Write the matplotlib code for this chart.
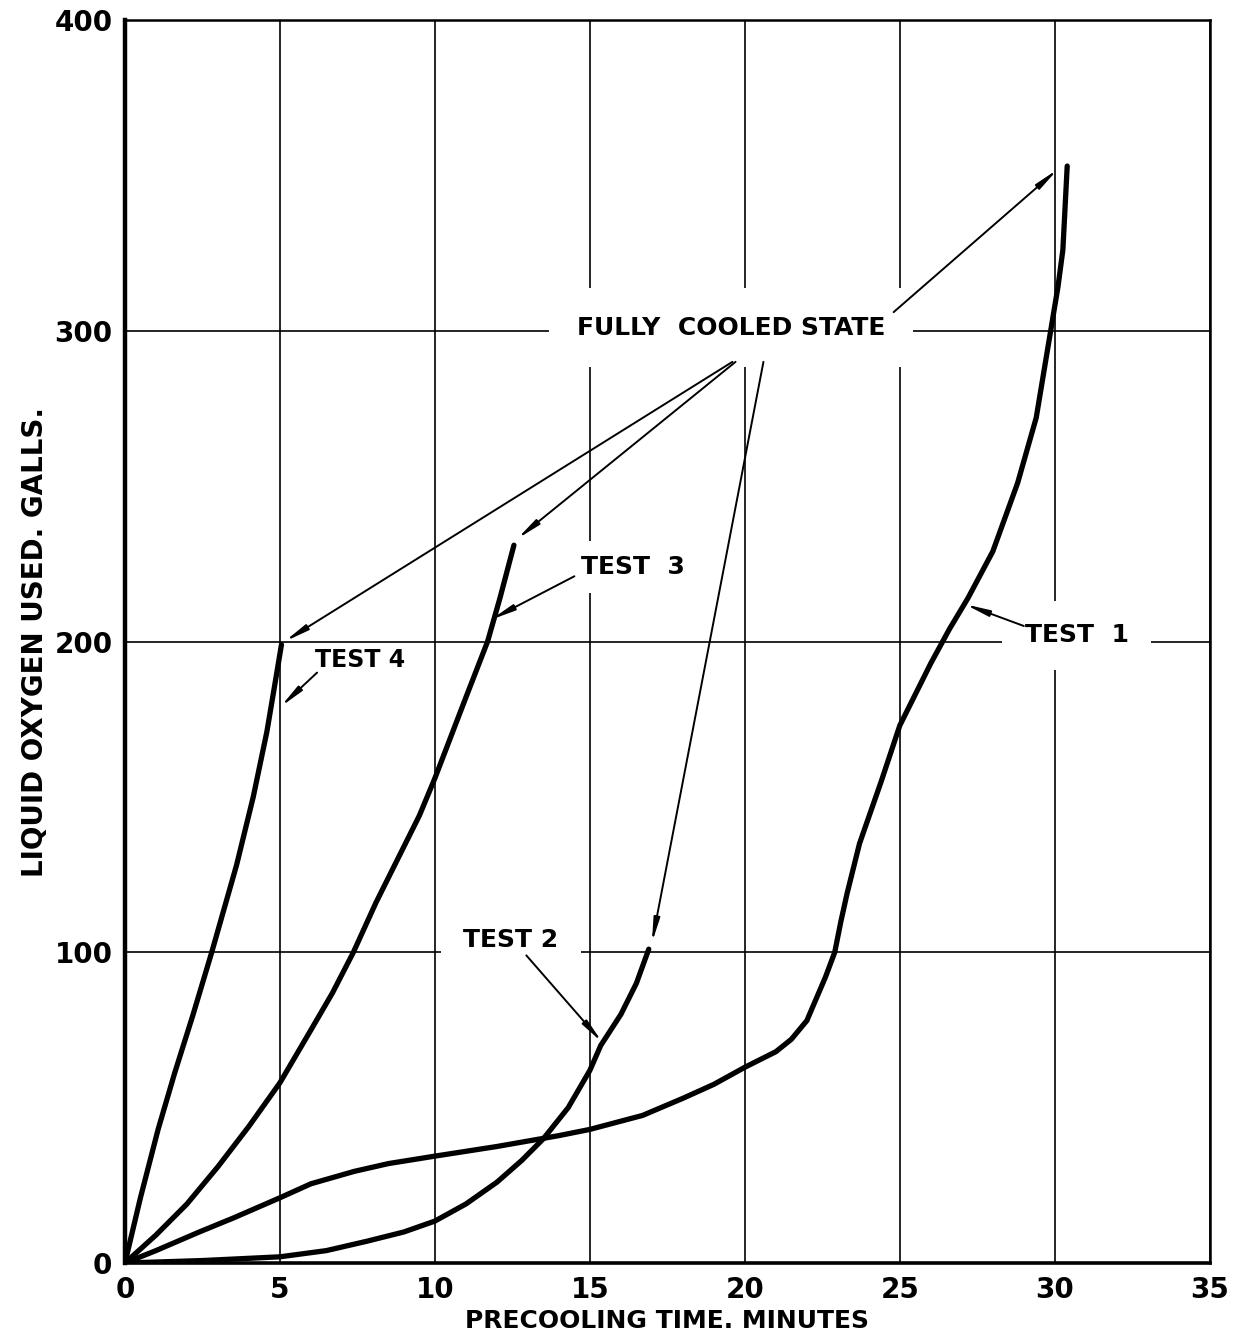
import matplotlib.pyplot as plt

plt.rcParams["font.family"] = "DejaVu Sans"
plt.rcParams["font.weight"] = "bold"

# curves (minutes, gallons)
test1_t = [0, 1, 2.4, 3.5, 5, 6, 7.4, 8.5, 10, 12, 14, 15, 16.7, 18, 19, 20, 21, 21.5, 22, 22.3, 22.6,
           22.9, 23.1, 23.3, 23.7, 24.4, 25, 25.4, 26, 26.6, 27.2, 28, 28.8, 29.4, 29.9, 30.1, 30.26, 30.4]
test1_g = [0, 4, 10, 14.5, 21, 25.5, 29.5, 32, 34.4, 37.5, 41, 43, 47.5, 53, 57.5, 63, 68, 72, 78, 85, 92,
           100, 110, 119, 135, 155, 173, 181, 193, 204, 214, 229, 251, 272, 302, 314, 326, 353]

test2_t = [0, 2.5, 5, 6.5, 7.8, 9, 10, 11, 12, 12.8, 13.5, 14.3, 15, 15.35, 16, 16.5, 16.9]
test2_g = [0, 0.8, 2, 4, 7, 10, 13.5, 19, 26, 33, 40, 50, 62, 70, 80, 90, 101]

test3_t = [0, 1, 2, 3, 4, 5, 6, 6.7, 7.37, 8.1, 8.9, 9.5, 10, 10.5, 11, 11.7, 12.1, 12.55]
test3_g = [0, 9, 19, 31, 44, 58, 75, 87, 100, 116, 132, 144, 156, 169, 182, 200, 214, 231]

test4_t = [0, 0.5, 1.07, 1.6, 2.2, 2.8, 3.2, 3.6, 4.14, 4.58, 4.85, 5.0, 5.05]
test4_g = [0, 21, 43, 61, 80, 100, 114, 128, 150, 171, 187, 196, 199]

x_ticks = [0, 5, 10, 15, 20, 25, 30, 35]
y_ticks = [0, 100, 200, 300, 400]

fig = plt.figure(figsize=(12.37, 13.34), dpi=100)
ax = fig.add_axes([0.101, 0.0532, 0.877, 0.9318])

ax.set_xlim(0, 35)
ax.set_ylim(0, 400)
ax.set_xticks(x_ticks)
ax.set_yticks(y_ticks)
ax.tick_params(length=0, labelsize=20)
ax.tick_params(axis="x", pad=9)
ax.tick_params(axis="y", pad=9)
for lab in ax.get_xticklabels() + ax.get_yticklabels():
    lab.set_fontweight("bold")
ax.grid(True, color="black", lw=1.2, zorder=0)
ax.set_axisbelow(True)
ax.spines["left"].set_linewidth(3.2)
ax.spines["bottom"].set_linewidth(2.6)
for s in ["top", "right"]:
    ax.spines[s].set_linewidth(1.8)

for t, g in [(test1_t, test1_g), (test2_t, test2_g), (test3_t, test3_g), (test4_t, test4_g)]:
    ax.plot(t, g, color="black", lw=3.8, solid_capstyle="round", solid_joinstyle="round", zorder=3)

ax.set_xlabel("PRECOOLING TIME. MINUTES", fontsize=18, fontweight="bold", labelpad=4)
ax.set_ylabel("LIQUID OXYGEN USED. GALLS.", fontsize=20, fontweight="bold", labelpad=4)

arrow = dict(arrowstyle="-|>,head_length=1.4,head_width=0.18", color="black", lw=1.4, shrinkA=0, shrinkB=0)

# fully cooled state
ax.text(19.55, 301, "FULLY  COOLED STATE", fontsize=18, fontweight="bold", ha="center", va="center",
        bbox=dict(facecolor="white", edgecolor="none", pad=20), zorder=4)
ax.annotate("", xy=(5.15, 200), xytext=(19.6, 290), arrowprops=arrow, zorder=5)
ax.annotate("", xy=(12.65, 233), xytext=(19.7, 290), arrowprops=arrow, zorder=5)
ax.annotate("", xy=(17.0, 103), xytext=(20.6, 290), arrowprops=arrow, zorder=5)
ax.annotate("", xy=(30.1, 352), xytext=(24.8, 306), arrowprops=arrow, zorder=5)

# test labels
ax.text(7.6, 194, "TEST 4", fontsize=17, fontweight="bold", ha="center", va="center",
        bbox=dict(facecolor="white", edgecolor="none", pad=2), zorder=4)
ax.annotate("", xy=(5.02, 179), xytext=(6.2, 190), arrowprops=arrow, zorder=5)

ax.text(16.4, 224, "TEST  3", fontsize=18, fontweight="bold", ha="center", va="center",
        bbox=dict(facecolor="white", edgecolor="none", pad=10), zorder=4)
ax.annotate("", xy=(11.8, 207), xytext=(14.5, 221), arrowprops=arrow, zorder=5)

ax.text(12.45, 104, "TEST 2", fontsize=18, fontweight="bold", ha="center", va="center",
        bbox=dict(facecolor="white", edgecolor="none", pad=16), zorder=4)
ax.annotate("", xy=(15.4, 71), xytext=(12.95, 99), arrowprops=arrow, zorder=5)

ax.text(30.7, 202, "TEST  1", fontsize=18, fontweight="bold", ha="center", va="center",
        bbox=dict(facecolor="white", edgecolor="none", pad=16), zorder=4)
ax.annotate("", xy=(27.1, 212), xytext=(29.0, 205), arrowprops=arrow, zorder=5)

fig.savefig("out.png", dpi=100, facecolor="white")
